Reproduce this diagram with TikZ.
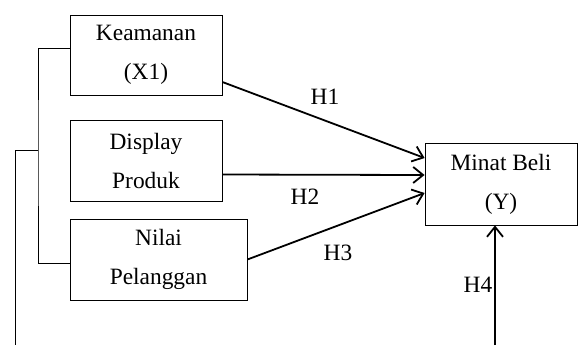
\documentclass[tikz,border=0pt]{standalone}
\usepackage{fontspec}
\setmainfont{Liberation Serif}
\usetikzlibrary{calc,arrows.meta}
\tikzset{varbox/.style={draw, thin, rectangle, align=center, inner sep=2pt,
    font=\fontsize{11.7}{19.5}\selectfont},
  hlabel/.style={inner sep=1pt, font=\fontsize{11.7}{14}\selectfont},
  path/.style={line width=0.9pt, -{Straight Barb[length=5pt,width=8pt,line width=0.9pt]}}}
\begin{document}
\begin{tikzpicture}[x=0.5pt, y=-0.5pt]
          \useasboundingbox (0,0) rectangle (579,345);
          \node at (146, 55) [varbox, minimum width=76pt, minimum height=40pt] (keamanan) {Keamanan\\(X1)};
          \node at (146, 160.5) [varbox, minimum width=76pt, minimum height=40.5pt] (display) {Display\\Produk};
          \node at (158.5, 259.5) [varbox, minimum width=88.5pt, minimum height=40.5pt] (nilai) {Nilai\\Pelanggan};
          \node at (501, 184) [varbox, minimum width=76pt, minimum height=41pt] (minat) {Minat Beli\\(Y)};

          % bracket on the left
          \coordinate (bus) at (38, 150);
          \coordinate (tail) at (15, 345);
          \draw[thin] ([yshift=3.5pt]keamanan.west) -| (bus) |- ([yshift=-1.8pt]nilai.west);
          \draw[thin] (bus) -| (tail);

          \draw[path] ([yshift=-13.5pt]keamanan.east) -- ([yshift=13pt]minat.west);
          \draw[path] ([yshift=-7pt]display.east) -- ([yshift=4.5pt]minat.west);
          \draw[path] (nilai.east) -- ([yshift=-4.5pt]minat.west);

          \coordinate (foot) at (495, 345);
          \draw[path] (foot) -- (foot |- minat.south);

          \node at (325, 97) [hlabel] (h1) {H1};
          \node at (305, 197) [hlabel] (h2) {H2};
          \node at (338, 253) [hlabel] (h3) {H3};
          \node at (478, 285) [hlabel] (h4) {H4};
        \end{tikzpicture}
\end{document}
